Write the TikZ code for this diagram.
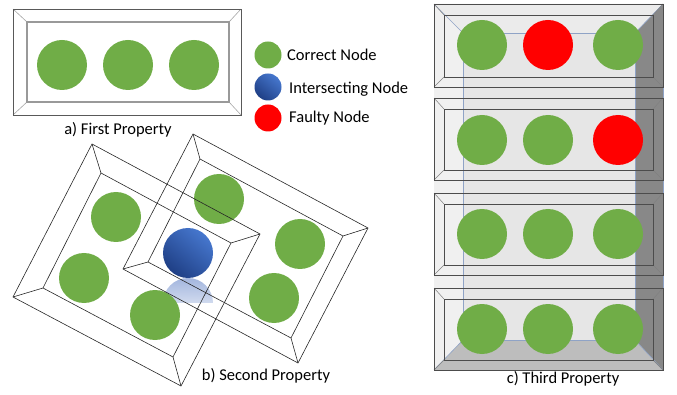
\documentclass[tikz,border=0pt]{standalone}
\usepackage{fontspec}
\setmainfont{Carlito}
\definecolor{cgreen}{HTML}{70AD47}
\definecolor{cred}{HTML}{FF0000}
\definecolor{cblueL}{HTML}{4677CE}
\definecolor{cblueD}{HTML}{1F3F85}
\definecolor{crefl}{HTML}{A3B6DE}
\definecolor{cedge}{HTML}{8FA3C6}
\definecolor{wallL}{HTML}{F0F0F0}
\definecolor{wallT}{HTML}{EBEBEB}
\definecolor{wallB}{HTML}{E6E6E6}
\definecolor{wallR}{HTML}{888888}
\definecolor{wallF}{HTML}{BDBDBD}
\begin{document}
\begin{tikzpicture}[x=1pt,y=-1pt,
  gnode/.style={circle,fill=cgreen,minimum size=50pt,inner sep=0pt},
  rnode/.style={circle,fill=cred,minimum size=50pt,inner sep=0pt},
  bnode/.style={circle,shade,top color=cblueL,bottom color=cblueD,shading angle=-40,minimum size=50pt,inner sep=0pt},
  lgnode/.style={circle,fill=cgreen,minimum size=27pt,inner sep=0pt},
  lrnode/.style={circle,fill=cred,minimum size=27pt,inner sep=0pt},
  lbnode/.style={circle,shade,top color=cblueL,bottom color=cblueD,shading angle=-40,minimum size=27pt,inner sep=0pt},
  lbl/.style={font=\fontsize{16.5}{20}\selectfont,inner sep=0pt},
  legtxt/.style={font=\fontsize{16.5}{20}\selectfont,inner sep=0pt,anchor=west},
  aouter/.style={draw=black!65,line width=0.8pt},
  ainner/.style={draw=black!40,line width=1.2pt},
  adiag/.style={draw=black!35,line width=0.6pt},
  bline/.style={draw=black!85,line width=0.6pt},
  rowline/.style={draw=black!70,line width=0.7pt},
  rowdiag/.style={draw=black!50,line width=0.5pt},
  backline/.style={draw=cedge,line width=0.6pt}
]
\useasboundingbox (0,0) rectangle (677,395);

% ---------- panel a ----------
\node[gnode] (a1) at (62,65) {};
\node[gnode] (a2) at (128,65) {};
\node[gnode] (a3) at (194,65) {};
\draw[adiag] (13,9) -- (27,22) (241,9) -- (229,22) (13,115) -- (27,102) (241,115) -- (229,102);
\draw[ainner] (27,22) rectangle (229,102);
\draw[aouter] (13,9) rectangle (241,115);
\node[lbl] (alabel) at (118,130) {a) First Property};

% ---------- legend ----------
\begin{scope}
\clip (250,100) rectangle (290,112);
\shade[top color=crefl,middle color=white,bottom color=white] (268,127) circle[radius=13.5pt];
\end{scope}
\node[lgnode] (lg) at (268,55) {};
\node[lbnode] (lb) at (268,87) {};
\node[lrnode] (lr) at (268,118) {};
\node[legtxt] (lgt) at (287,55) {Correct Node};
\node[legtxt] (lbt) at (289,89) {Intersecting Node};
\node[legtxt] (lrt) at (289,118) {Faulty Node};

% ---------- panel b ----------
\begin{scope}
\clip (160,278) rectangle (216,302);
\shade[top color=crefl,middle color=white,bottom color=white] (188,303) circle[radius=25pt];
\end{scope}
\node[gnode] (b1) at (116,217) {};
\node[gnode] (b2) at (84,278) {};
\node[gnode] (b3) at (155,315) {};
\node[gnode] (b4) at (219,199) {};
\node[gnode] (b5) at (300,244) {};
\node[gnode] (b6) at (274,298) {};
\node[bnode] (b7) at (188,253) {};
% square 1
\coordinate (p1t) at (92,144);  \coordinate (p1r) at (260,234);
\coordinate (p1b) at (181,386); \coordinate (p1l) at (13,297);
\coordinate (q1t) at (101,173); \coordinate (q1r) at (231,243);
\coordinate (q1b) at (173,357); \coordinate (q1l) at (43,288);
\draw[bline] (p1t) -- (p1r) -- (p1b) -- (p1l) -- cycle;
\draw[bline] (q1t) -- (q1r) -- (q1b) -- (q1l) -- cycle;
\draw[bline] (p1t) -- (q1t) (p1r) -- (q1r) (p1b) -- (q1b) (p1l) -- (q1l);
% square 2
\coordinate (p2t) at (193,134); \coordinate (p2r) at (368,228);
\coordinate (p2b) at (298,363); \coordinate (p2l) at (123,269);
\coordinate (q2t) at (200,159); \coordinate (q2r) at (343,236);
\coordinate (q2b) at (291,338); \coordinate (q2l) at (148,262);
\draw[bline] (p2t) -- (p2r) -- (p2b) -- (p2l) -- cycle;
\draw[bline] (q2t) -- (q2r) -- (q2b) -- (q2l) -- cycle;
\draw[bline] (p2t) -- (q2t) (p2r) -- (q2r) (p2b) -- (q2b) (p2l) -- (q2l);
\node[lbl] (blabel) at (266,376) {b) Second Property};

% ---------- panel c ----------
\fill[wallL] (434,4) -- (463,33) -- (463,340) -- (434,370) -- cycle;
\fill[wallT] (434,4) -- (663,4) -- (635,33) -- (463,33) -- cycle;
\fill[wallB] (463,33) rectangle (635,340);
\fill[wallR] (663,4) -- (663,370) -- (635,340) -- (635,33) -- cycle;
\fill[wallF] (434,370) -- (663,370) -- (635,340) -- (463,340) -- cycle;
\draw[backline] (463,33) rectangle (635,340);
\draw[backline] (434,4) -- (463,33) (663,4) -- (635,33) (434,370) -- (463,340) (663,370) -- (635,340);
\draw[backline] (663,4) -- (663,370);
\foreach \t/\b in {4/87, 98/180, 193/275, 288/370} {
  \draw[rowdiag] (434,\t) -- (444,\t+11) (663,\t) -- (653,\t+11)
                 (434,\b) -- (444,\b-10) (663,\b) -- (653,\b-10);
  \draw[rowline] (444,\t+11) rectangle (653,\b-10);
  \draw[rowline] (434,\t) rectangle (663,\b);
}
\node[gnode] (c11) at (482,45) {};
\node[rnode] (c12) at (548,45) {};
\node[gnode] (c13) at (618,45) {};
\node[gnode] (c21) at (482,140) {};
\node[gnode] (c22) at (548,140) {};
\node[rnode] (c23) at (618,140) {};
\node[gnode] (c31) at (482,234) {};
\node[gnode] (c32) at (548,234) {};
\node[gnode] (c33) at (618,234) {};
\node[gnode] (c41) at (482,329) {};
\node[gnode] (c42) at (548,329) {};
\node[gnode] (c43) at (618,329) {};
\node[lbl] (clabel) at (563,379) {c) Third Property};
\end{tikzpicture}
\end{document}
